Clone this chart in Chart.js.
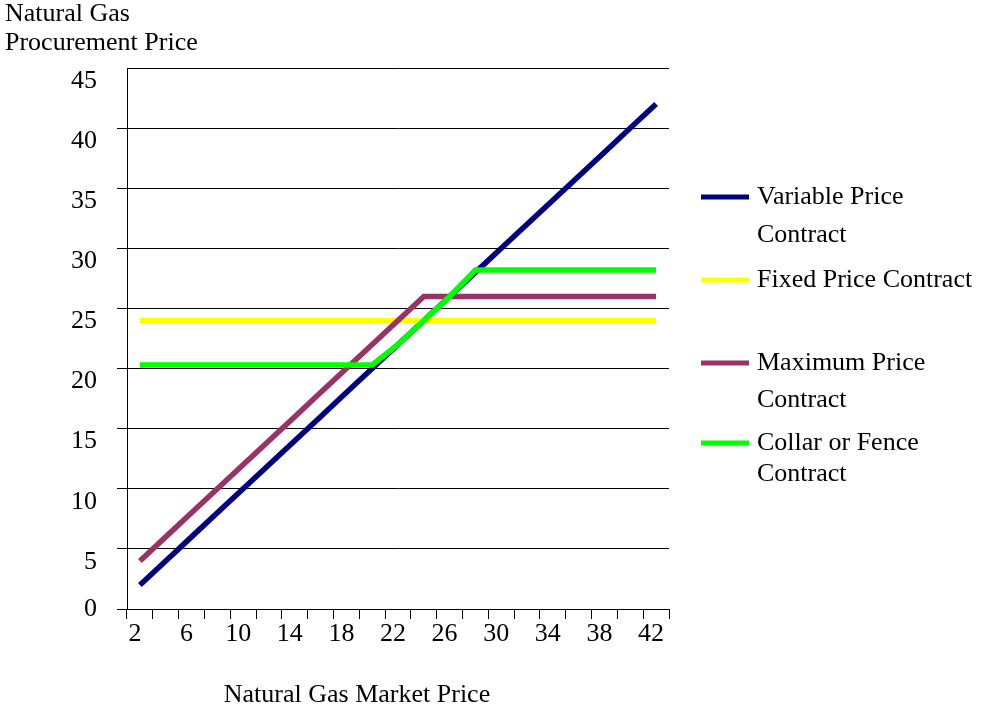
<!DOCTYPE html>
<html>
<head>
<meta charset="utf-8">
<script src="https://cdn.jsdelivr.net/npm/chart.js@4"></script>
<style>
  html, body { margin: 0; padding: 0; background: #fff; }
  #wrap { width: 981px; height: 712px; }
</style>
</head>
<body>
<div id="wrap"><canvas id="gas-chart" width="981" height="712"></canvas></div>
<script>
// market price categories
var market_price = [2, 4, 6, 8, 10, 12, 14, 16, 18, 20, 22, 24, 26, 28, 30, 32, 34, 36, 38, 40, 42];

// procurement price for each contract type
var variable_price = [2, 4, 6, 8, 10, 12, 14, 16, 18, 20, 22, 24, 26, 28, 30, 32, 34, 36, 38, 40, 42];
var fixed_price = [24, 24, 24, 24, 24, 24, 24, 24, 24, 24, 24, 24, 24, 24, 24, 24, 24, 24, 24, 24, 24];
var maximum_price = [4, 6, 8, 10, 12, 14, 16, 18, 20, 22, 24, 26, 26, 26, 26, 26, 26, 26, 26, 26, 26];
var collar_price = [20.3, 20.3, 20.3, 20.3, 20.3, 20.3, 20.3, 20.3, 20.3, 20.3, 22, 24, 26, 28.2, 28.2, 28.2, 28.2, 28.2, 28.2, 28.2, 28.2];

var series_names = [['Variable Price', 'Contract'], ['Fixed Price Contract'], ['Maximum Price', 'Contract'], ['Collar or Fence', 'Contract']];
var series_colors = ['#000080', '#ffff00', '#993366', '#00ff00'];

var y_title = ['Natural Gas', 'Procurement Price'];
var x_title = 'Natural Gas Market Price';

var FONT = '"Liberation Serif", "Times New Roman", serif';

// legend, axis titles and y labels drawn by hand
var textPlugin = {
    id: 'textPlugin',
    afterDraw: function(chart) {
        var ctx = chart.ctx;
        ctx.save();
        ctx.fillStyle = '#000';
        ctx.font = '26px ' + FONT;
        ctx.textBaseline = 'middle';
        ctx.textAlign = 'left';
        ctx.fillText(y_title[0], 5, 14);
        ctx.fillText(y_title[1], 5, 43);

        ctx.textAlign = 'center';
        ctx.fillText(x_title, 357, 695);

        // y tick labels sit a bit under their gridlines (except 0)
        var ys = chart.scales.y;
        ctx.textAlign = 'right';
        ys.ticks.forEach(function(t) {
            var py = ys.getPixelForValue(t.value) + (t.value > 0 ? 13 : 0);
            ctx.fillText(String(t.value), 97, py);
        });

        // legend
        var rows = [197, 280, 363, 443];
        var second = [38, 0, 37, 31];
        ctx.textAlign = 'left';
        for (var i = 0; i < series_names.length; i++) {
            ctx.strokeStyle = series_colors[i];
            ctx.lineWidth = 5;
            ctx.beginPath();
            ctx.moveTo(701, rows[i]);
            ctx.lineTo(749, rows[i]);
            ctx.stroke();
            ctx.fillStyle = '#000';
            ctx.fillText(series_names[i][0], 757, rows[i]);
            if (series_names[i].length > 1) {
                ctx.fillText(series_names[i][1], 757, rows[i] + second[i]);
            }
        }
        ctx.restore();
    }
};

function makeSet(name, values, color, order) {
    return {
        label: name.join(' '),
        data: values,
        borderColor: color,
        backgroundColor: color,
        borderWidth: 5.5,
        pointRadius: 0,
        tension: 0,
        fill: false,
        order: order,
        borderCapStyle: 'butt',
        borderJoinStyle: 'miter'
    };
}

var gas_ctx = document.getElementById('gas-chart').getContext('2d');

var gas_chart = new Chart(gas_ctx, {
    type: 'line',
    data: {
        labels: market_price,
        datasets: [
            makeSet(series_names[0], variable_price, series_colors[0], 4),
            makeSet(series_names[1], fixed_price, series_colors[1], 3),
            makeSet(series_names[2], maximum_price, series_colors[2], 2),
            makeSet(series_names[3], collar_price, series_colors[3], 1)
        ]
    },
    options: {
        responsive: false,
        animation: false,
        layout: {
            padding: { top: 68, right: 312, bottom: 0, left: 73 }
        },
        plugins: {
            legend: { display: false },
            title: { display: false },
            tooltip: { enabled: false }
        },
        scales: {
            x: {
                type: 'category',
                offset: true,
                afterFit: function(scale) { scale.height = 103; },
                grid: {
                    offset: true,
                    drawOnChartArea: false,
                    drawTicks: true,
                    tickLength: 10,
                    color: '#000'
                },
                border: { color: '#000', width: 1 },
                ticks: {
                    autoSkip: false,
                    maxRotation: 0,
                    padding: 0,
                    labelOffset: -5,
                    color: '#000',
                    font: { family: FONT, size: 26 },
                    callback: function(val, idx) {
                        return idx % 2 === 0 ? market_price[idx] : '';
                    }
                }
            },
            y: {
                min: 0,
                max: 45,
                afterFit: function(scale) { scale.width = 54; },
                grid: {
                    color: '#000',
                    lineWidth: 1,
                    tickLength: 10,
                    tickColor: function(c) {
                        return c.tick && c.tick.value === 45 ? 'rgba(0,0,0,0)' : '#000';
                    }
                },
                border: { color: '#000', width: 1 },
                ticks: {
                    display: false,
                    stepSize: 5
                }
            }
        }
    },
    plugins: [textPlugin]
});
</script>
</body>
</html>
